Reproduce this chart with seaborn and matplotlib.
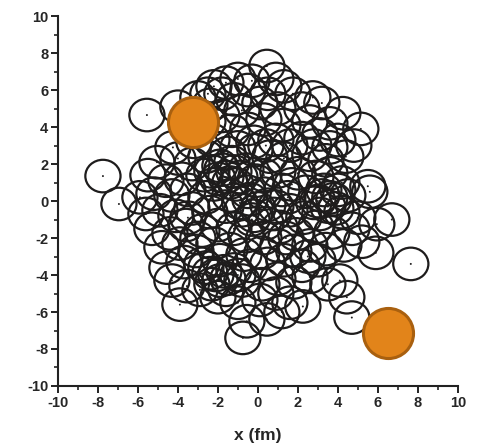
import matplotlib
matplotlib.use("Agg")
import matplotlib.pyplot as plt
from matplotlib.patches import Circle
from matplotlib.ticker import MultipleLocator
import seaborn as sns
import pandas as pd

# Nucleon centre positions (fm)
nucleon_x = [0.45, -1.0, -1.6, -2.2, -0.3, 0.9, 1.3, -0.5,
             -3.0, -2.4, 1.75, 2.75, 2.2, -1.2, 0.1, 3.2, -0.8, 1.0,
             -4.0, -5.55, 4.25, 5.15, 3.6, -2.5, -1.8, 1.25, 0.3, 2.6, -0.5, -1.3,
             -4.25, -3.2, -2.3, 4.0, 2.2, 3.1, -0.2, 0.9, 1.6, 4.8, 3.6,
             -5.05, -4.0, -0.15, -1.5, -2.6, 0.6, 1.3, 2.6, 3.4, 4.4, -3.3, -1.9, -1.2, -1.6,
             -7.75, -5.5, -4.6, -3.8, -2.7, -0.6, 0.3, 1.0, 2.0, 2.9, 3.6, 4.2, 5.5, -2.2, -1.1,
             -6.95, -5.9, -5.2, -4.3, -3.5, -2.6, -1.4, -0.5, 0.3, 1.2, 2.4, 3.2, 3.8, 4.5, 5.6, 2.8, 3.5,
             -5.6, -4.9, -4.1, -3.3, -2.4, -1.6, -0.8, 0.0, 0.8, 1.6, 2.3, 4.2, 5.0, 6.7, 5.95, -0.3, 0.4,
             -5.3, -4.4, -3.6, -2.8, -2.0, -1.2, 1.1, 1.9, 2.9, 3.7, 4.7, -0.6, 0.3,
             -4.8, -3.9, -3.1, -2.2, -1.4, -0.7, 0.2, 1.0, 1.8, 2.6, 3.4, 4.3, 5.9, 5.2,
             -4.55, -3.7, -2.6, -1.9, -1.2, -0.4, 0.5, 1.3, 2.2, 3.0, 7.65, -2.1, -1.5,
             -4.3, -3.55, -2.9, -2.3, -1.6, -0.8, 0.2, 1.0, 1.8, 2.6, 4.1, 3.5,
             -3.9, -1.0, 0.1, 1.6, 2.25, 4.45, -2.0, 0.9,
             4.7, 0.45, -0.55, -0.75, 1.2,
             -1.8, -1.3, -0.9, -2.0, 3.3, 3.9, 3.1, 4.0, -1.7, -1.0, -2.4, -0.2, 0.5,
             -0.9, 1.5, -1.0, 0.4, 2.8, -3.5, -3.0, 2.5, 1.4, -2.5, -1.8, 0.5, -3.5,
             -1.4, -2.3, 3.6, 3.0, -1.9, -0.4, 0.9, -2.8, 1.7, -0.1]
nucleon_y = [7.3, 6.6, 6.4, 6.2, 6.5, 6.6, 6.2, 6.0,
             5.6, 5.2, 5.8, 5.6, 5.0, 5.5, 5.3, 5.3, 4.9, 5.0,
             5.1, 4.65, 4.75, 3.9, 4.2, 4.3, 4.6, 4.1, 4.4, 4.3, 3.9, 3.8,
             2.9, 3.2, 3.3, 3.3, 3.4, 3.6, 3.2, 3.3, 3.0, 3.0, 2.9,
             2.1, 2.3, 2.75, 2.6, 2.4, 2.4, 2.3, 2.5, 2.2, 2.4, 2.0, 1.9, 1.6, 1.3,
             1.35, 1.4, 1.1, 1.2, 1.4, 1.7, 1.4, 1.6, 1.5, 1.3, 1.5, 1.0, 0.8, 0.9, 0.9,
             -0.16, 0.2, 0.4, 0.3, 0.6, 0.2, 0.3, 0.5, 0.4, 0.6, 0.5, 0.3, 0.1, 0.3, 0.5, -0.1, -0.3,
             -0.7, -0.5, -0.8, -0.4, -0.6, -0.3, -0.5, -0.4, -0.7, -0.5, -0.9, -0.6, -0.9, -1.0, -1.25, -1.0, -1.2,
             -1.5, -1.75, -1.3, -1.6, -1.3, -1.5, -1.4, -1.8, -1.4, -1.7, -1.5, -1.9, -2.0,
             -2.5, -2.3, -2.7, -2.3, -2.6, -2.9, -2.8, -2.4, -2.7, -2.4, -2.6, -2.4, -2.8, -2.2,
             -3.6, -3.3, -3.6, -3.2, -3.7, -3.5, -3.4, -3.2, -3.5, -3.2, -3.4, -4.0, -4.2,
             -4.3, -4.6, -4.8, -4.5, -4.8, -4.3, -4.5, -4.2, -4.4, -4.1, -4.3, -4.5,
             -5.6, -5.5, -5.35, -5.5, -5.7, -5.2, -5.2, -5.0,
             -6.3, -6.4, -6.5, -7.4, -6.0,
             1.7, 2.1, 1.3, 1.2, 0.6, -0.4, -0.7, 0.6, -3.8, -4.0, -3.9, -0.8, -0.2,
             -0.1, 0.2, 2.9, 3.0, 3.0, -0.9, -2.0, -3.0, -2.0, 5.8, 5.8, 5.8, 4.0,
             1.0, 1.6, 0.2, 0.0, -4.3, 0.1, -0.3, -3.4, 0.9, 1.1]

# Two highlighted (orange) nucleons
hl_x = [-3.25, 6.5]
hl_y = [4.3, -7.15]

tick_vals = [-10, -8, -6, -4, -2, 0, 2, 4, 6, 8, 10]

sns.set_style("ticks")
plt.rcParams['font.family'] = ['Liberation Sans', 'DejaVu Sans']
plt.rcParams['font.weight'] = 'bold'
plt.rcParams['axes.unicode_minus'] = False

fig = plt.figure(figsize=(4.87, 4.47), dpi=100)
ax = fig.add_axes([0.119, 0.1365, 0.821, 0.8275])

nuc = pd.DataFrame({"x": nucleon_x, "y": nucleon_y})
hl = pd.DataFrame({"x": hl_x, "y": hl_y})

R = 0.88
for cx, cy in zip(nucleon_x, nucleon_y):
    ax.add_patch(Circle((cx, cy), R, fill=False, edgecolor="#1e1c1c",
                        linewidth=1.6, zorder=2))

sns.scatterplot(data=nuc, x="x", y="y", ax=ax, s=2, color="#1e1c1c",
                edgecolor="none", zorder=3, legend=False)
sns.scatterplot(data=hl, x="x", y="y", ax=ax, s=1300, color="#E2841A",
                edgecolor="#A9600F", linewidth=2.2, zorder=4, legend=False)

ax.set_xlim(-10, 10)
ax.set_ylim(-10, 10)
ax.set_xticks(tick_vals)
ax.set_yticks(tick_vals)
ax.xaxis.set_minor_locator(MultipleLocator(1))
ax.yaxis.set_minor_locator(MultipleLocator(1))
ax.tick_params(which="major", direction="out", length=5, width=1.4,
               labelsize=10.5, color="#222222", pad=2)
ax.tick_params(which="minor", direction="out", length=3, width=1.2,
               color="#222222")
for lab in ax.get_xticklabels() + ax.get_yticklabels():
    lab.set_fontweight("bold")
for side in ["left", "bottom"]:
    ax.spines[side].set_linewidth(1.5)
    ax.spines[side].set_color("#222222")
sns.despine(ax=ax)

ax.set_xlabel("x (fm)", fontsize=12.5, fontweight="bold", labelpad=13)
ax.set_ylabel("")

fig.savefig("out.png", dpi=100)
